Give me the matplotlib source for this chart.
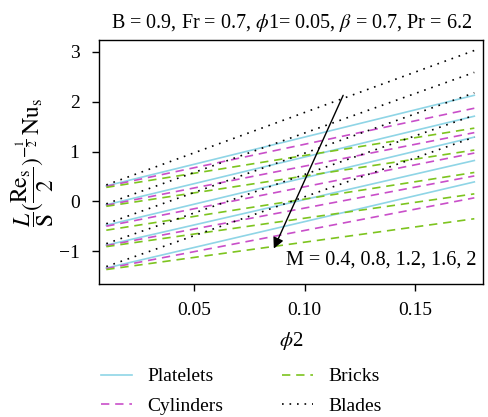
import numpy as np
import matplotlib
matplotlib.use('Agg')
import matplotlib.pyplot as plt

plt.rcParams['font.family'] = ['Liberation Serif', 'DejaVu Serif']
plt.rcParams['mathtext.fontset'] = 'stix'
plt.rcParams['font.size'] = 14

# phi2 range of each curve
phi2 = [0.01, 0.177]
M_values = [0.4, 0.8, 1.2, 1.6, 2]

# start / end values of each curve (one per M)
platelets_start = [0.31, -0.07, -0.48, -0.88, -1.34]
platelets_end = [2.13, 1.71, 1.29, 0.82, 0.39]
cylinders_start = [0.30, -0.08, -0.50, -0.89, -1.35]
cylinders_end = [1.87, 1.38, 0.97, 0.51, 0.07]
bricks_start = [0.28, -0.10, -0.58, -0.91, -1.37]
bricks_end = [1.47, 1.03, 0.58, 0.15, -0.35]
blades_start = [0.33, -0.05, -0.45, -0.85, -1.31]
blades_end = [3.03, 2.59, 2.18, 1.73, 1.29]

fig = plt.figure(figsize=(4.89, 4.17), dpi=100)
ax = fig.add_axes([0.2025, 0.319, 0.7855, 0.585])

shapes = [
    ('Platelets', platelets_start, platelets_end, '#8fd5e6', '-'),
    ('Cylinders', cylinders_start, cylinders_end, '#c94fc9', (0, (5, 3.5))),
    ('Bricks', bricks_start, bricks_end, '#7dc41f', (0, (5, 3.5))),
    ('Blades', blades_start, blades_end, 'black', (0, (1, 3.5))),
]
handles = []
for name, s, e, col, ls in shapes:
    for i in range(len(M_values)):
        ln, = ax.plot(phi2, [s[i], e[i]], color=col, linestyle=ls, lw=1.2)
    ln.set_label(name)
    handles.append(ln)

ax.annotate('', xy=(0.0855, -1.0), xytext=(0.118, 2.18),
            arrowprops=dict(arrowstyle='-|>', color='black', lw=1.0, mutation_scale=16))
ax.text(0.178, -1.17, 'M = 0.4, 0.8, 1.2, 1.6, 2', ha='right', va='center', fontsize=14.5)

ax.set_xlim(0.0067, 0.181)
ax.set_ylim(-1.66, 3.24)
ax.set_xticks([0.05, 0.10, 0.15])
ax.set_xticklabels(['0.05', '0.10', '0.15'])
ax.set_yticks([-1, 0, 1, 2, 3])
ax.set_yticklabels(['\u22121', '0', '1', '2', '3'])
ax.tick_params(direction='out', length=5, width=1, labelsize=14)
ax.tick_params(axis='y', pad=9)
ax.tick_params(axis='x', pad=8)
for sp in ax.spines.values():
    sp.set_linewidth(1.0)

ax.set_xlabel(r'$\phi$2', fontsize=15, labelpad=8)
ax.set_ylabel(r'$\dfrac{L}{\mathrm{S}}(\dfrac{\mathrm{Re_s}}{2})^{-\frac{1}{2}}\,\mathrm{Nu_s}$',
              fontsize=17, labelpad=2)
ax.set_title(r'B = 0.9, Fr = 0.7, $\phi$1= 0.05, $\beta$ = 0.7, Pr = 6.2', fontsize=14.5, pad=9)

fig.legend(handles=handles, loc='upper left', bbox_to_anchor=(0.17, 0.16),
           ncol=2, frameon=False, fontsize=14, handlelength=1.6,
           columnspacing=3.0, handletextpad=0.8, labelspacing=0.6)

fig.savefig('out.png', dpi=100)
